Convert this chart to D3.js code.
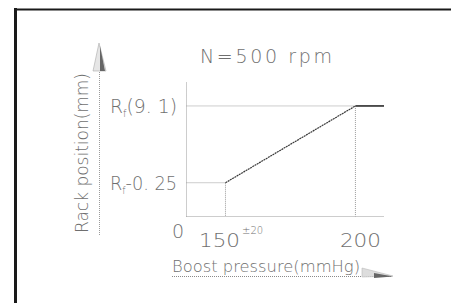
<!DOCTYPE html>
<html>
<head>
<meta charset="utf-8">
<script src="https://cdn.jsdelivr.net/npm/d3@7"></script>
<style>
  body { margin: 0; background: #fff; }
  .labels { opacity: 0.99; }
  text { font-family: "DejaVu Sans", sans-serif; font-weight: 200; fill: #6e6e6e; }
</style>
</head>
<body>
<div id="chart"></div>
<script>
// rack curve (boost pressure in mmHg, rack position in mm)
var pressure = [150, 200, 211];
var rack = [8.85, 9.1, 9.1];

var xTicks = [150, 200];
var xTickLabels = ["150", "200"];
var yTicks = [9.1, 8.85];
var yTickLabels = ["(9. 1)", "-0. 25"];

var title = "N=500  rpm";
var xTitle = "Boost pressure(mmHg)";
var yTitle = "Rack position(mm)";

var width = 451,
    height = 303;

var svg = d3.select("#chart").append("svg")
    .attr("width", width)
    .attr("height", height);

var x = d3.scaleLinear().domain([135, 211]).range([186.5, 384]);
var y = d3.scaleLinear().domain([8.74, 9.178]).range([216.5, 82]);

var x0 = x.domain()[0], y0 = y.domain()[0];

/// FRAME ///
svg.append("line")
    .attr("x1", 15.5).attr("x2", 15.5).attr("y1", 8).attr("y2", height)
    .style("stroke", "#1a1a1a").style("stroke-width", 3);
svg.append("line")
    .attr("x1", 14).attr("x2", width).attr("y1", 9.5).attr("y2", 9.5)
    .style("stroke", "#1a1a1a").style("stroke-width", 2);

var dotted = function(sel) {
  sel.style("stroke", "#9a9a9a").style("stroke-width", 1).style("stroke-dasharray", "1,1").style("fill", "none");
};

// plot box (left and bottom)
svg.append("line").call(dotted)
    .attr("x1", x(x0)).attr("x2", x(x0)).attr("y1", y(y0)).attr("y2", y.range()[1]);
svg.append("line").call(dotted)
    .attr("x1", x(x0)).attr("x2", x.range()[1]).attr("y1", y(y0)).attr("y2", y(y0));

// guide lines
svg.append("line").call(dotted)
    .attr("x1", x(x0)).attr("x2", x(pressure[1])).attr("y1", y(rack[1])).attr("y2", y(rack[1]));
svg.append("line").call(dotted)
    .attr("x1", x(pressure[1])).attr("x2", x(pressure[1])).attr("y1", y(rack[1])).attr("y2", y(y0));
svg.append("line").call(dotted)
    .attr("x1", x(x0)).attr("x2", x(pressure[0])).attr("y1", y(rack[0])).attr("y2", y(rack[0]));
svg.append("line").call(dotted)
    .attr("x1", x(pressure[0])).attr("x2", x(pressure[0])).attr("y1", y(rack[0])).attr("y2", y(y0));

/// CURVE ///
svg.append("line")
    .attr("x1", x(pressure[0])).attr("y1", y(rack[0]))
    .attr("x2", x(pressure[1])).attr("y2", y(rack[1]))
    .style("stroke", "#3a3a3a").style("stroke-width", 1.2).style("stroke-dasharray", "2,0.6");
svg.append("line")
    .attr("x1", x(pressure[1])).attr("y1", y(rack[1]))
    .attr("x2", x(pressure[2])).attr("y2", y(rack[2]))
    .style("stroke", "#2a2a2a").style("stroke-width", 1.6);

/// TEXTS ///
var labels = svg.append("g").attr("class", "labels");

labels.append("text")
    .attr("x", 200).attr("y", 63)
    .attr("textLength", 132).attr("lengthAdjust", "spacing")
    .style("font-size", "19px")
    .text(title);

// y tick labels
yTicks.forEach(function(v, i) {
  var t = labels.append("text")
      .attr("x", 110).attr("y", y(v) + 7)
      .attr("textLength", 67).attr("lengthAdjust", "spacingAndGlyphs")
      .style("font-size", "19px");
  t.append("tspan").text("R");
  t.append("tspan").attr("dy", 4).style("font-size", "10px").text("f");
  t.append("tspan").attr("dy", -4).text(yTickLabels[i]);
});

// x tick labels
labels.append("text")
    .attr("x", 172).attr("y", 238)
    .style("font-size", "19px")
    .text("0");
xTicks.forEach(function(v, i) {
  labels.append("text")
      .attr("x", x(v) + (i == 0 ? -6 : 5)).attr("y", 247)
      .attr("text-anchor", "middle")
      .attr("textLength", 41).attr("lengthAdjust", "spacingAndGlyphs")
      .style("font-size", "20px")
      .text(xTickLabels[i]);
});
labels.append("text")
    .attr("x", 242).attr("y", 234)
    .style("font-size", "10px")
    .text("±20");

// axis titles
labels.append("text")
    .attr("x", 172).attr("y", 272)
    .attr("textLength", 188).attr("lengthAdjust", "spacingAndGlyphs")
    .style("font-size", "15px")
    .text(xTitle);
labels.append("text")
    .attr("transform", "translate(88,233) rotate(-90)")
    .attr("textLength", 160).attr("lengthAdjust", "spacingAndGlyphs")
    .style("font-size", "18px")
    .text(yTitle);

/// ARROWS ///
svg.append("line")
    .attr("x1", 172).attr("x2", 392).attr("y1", 276.5).attr("y2", 276.5)
    .style("stroke", "#8a8a8a").style("stroke-width", 1).style("stroke-dasharray", "1,1");
svg.append("path")
    .attr("d", "M362,268 L393,276 L362,277 Z")
    .style("fill", "#ddd").style("stroke", "#bbb").style("stroke-width", 0.6);
svg.append("path")
    .attr("d", "M374,273 L393,276.5 L374,278 Z")
    .style("fill", "#666");

svg.append("line")
    .attr("x1", 99.5).attr("x2", 99.5).attr("y1", 235).attr("y2", 45)
    .style("stroke", "#9a9a9a").style("stroke-width", 1).style("stroke-dasharray", "1,1");
svg.append("path")
    .attr("d", "M99,43 L93,71 L106,71 Z")
    .style("fill", "#e6e6e6").style("stroke", "#aaa").style("stroke-width", 0.6);
svg.append("path")
    .attr("d", "M100,46 L100,71 L105,71 Z")
    .style("fill", "#666");
</script>
</body>
</html>
